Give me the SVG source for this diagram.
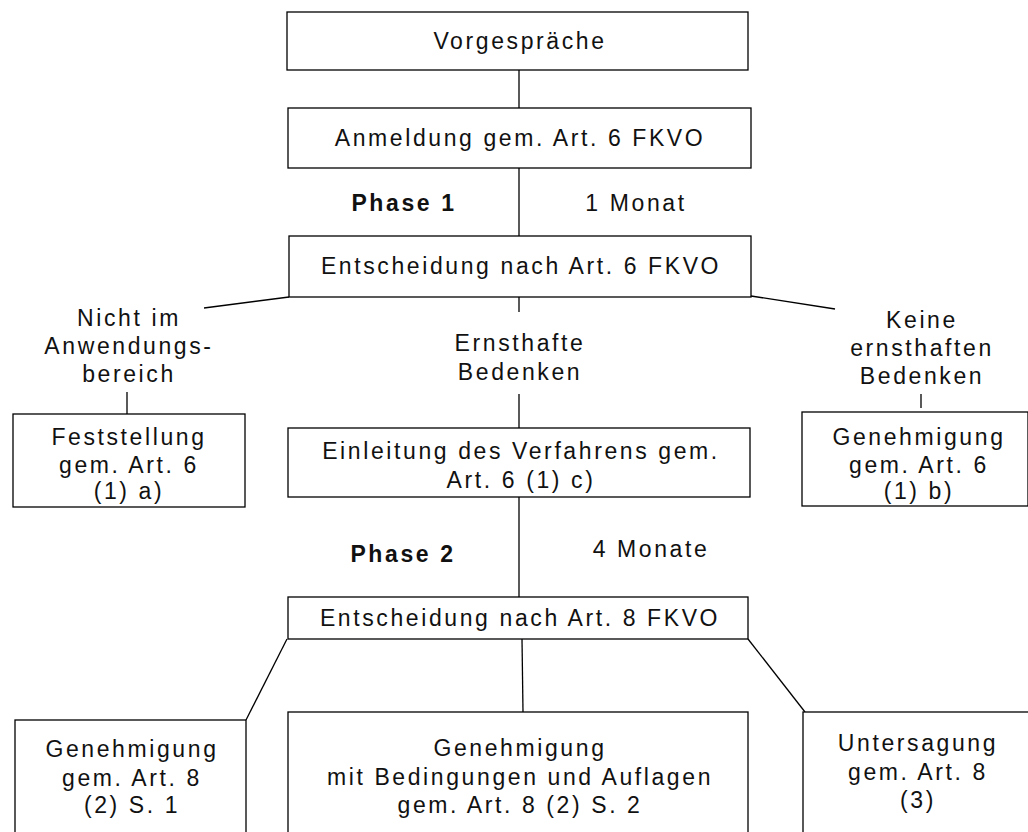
<svg xmlns="http://www.w3.org/2000/svg" width="1028" height="832" viewBox="0 0 1028 832">
<style>
  .box { fill: #ffffff; stroke: #000000; stroke-width: 1.3; }
  .t { font-family: "Liberation Sans", Arial, sans-serif; font-size: 23px; letter-spacing: 2.6px; fill: #111111; text-anchor: middle; }
  .b { font-weight: bold; }
  .c { stroke: #000000; stroke-width: 1.3; fill: none; }
</style>
<rect width="1028" height="832" fill="#ffffff"/>
<g id="connectors">
  <line class="c" x1="519" y1="70" x2="519" y2="108"/>
  <line class="c" x1="519" y1="168" x2="519" y2="236"/>
  <line class="c" x1="519" y1="297" x2="519" y2="312"/>
  <line class="c" x1="519" y1="394" x2="519" y2="428"/>
  <line class="c" x1="519" y1="497" x2="519" y2="597"/>
  <line class="c" x1="289" y1="297" x2="204" y2="308"/>
  <line class="c" x1="751" y1="296" x2="835" y2="309"/>
  <line class="c" x1="127" y1="392" x2="127" y2="414"/>
  <line class="c" x1="921" y1="394" x2="921" y2="408"/>
  <line class="c" x1="287" y1="639" x2="246" y2="720"/>
  <line class="c" x1="522" y1="639" x2="523" y2="712"/>
  <line class="c" x1="748" y1="639" x2="805" y2="712"/>
</g>
<g id="phase1">
  <text class="t b" x="404" y="211">Phase 1</text>
  <text class="t" x="636" y="211">1 Monat</text>
</g>
<g id="phase2">
  <text class="t b" x="403" y="562">Phase 2</text>
  <text class="t" x="651" y="557">4 Monate</text>
</g>
<g id="vorgespraeche">
  <rect class="box" x="287" y="12" width="461" height="58"/>
  <text class="t" x="520" y="49">Vorgespräche</text>
</g>
<g id="anmeldung">
  <rect class="box" x="288" y="108" width="463" height="60"/>
  <text class="t" x="520" y="146">Anmeldung gem. Art. 6 FKVO</text>
</g>
<g id="entscheidung6">
  <rect class="box" x="289" y="236" width="462" height="61"/>
  <text class="t" x="521" y="274">Entscheidung nach Art. 6 FKVO</text>
</g>
<g id="label-nicht">
  <text class="t" x="129" y="326">Nicht im</text>
  <text class="t" x="129" y="354">Anwendungs-</text>
  <text class="t" x="129" y="382">bereich</text>
</g>
<g id="label-ernsthaft">
  <text class="t" x="520" y="351">Ernsthafte</text>
  <text class="t" x="520" y="380">Bedenken</text>
</g>
<g id="label-keine">
  <text class="t" x="922" y="328">Keine</text>
  <text class="t" x="922" y="356">ernsthaften</text>
  <text class="t" x="922" y="384">Bedenken</text>
</g>
<g id="feststellung">
  <rect class="box" x="13" y="414" width="232" height="93"/>
  <text class="t" x="129" y="445">Feststellung</text>
  <text class="t" x="129" y="473">gem. Art. 6</text>
  <text class="t" x="129" y="499">(1) a)</text>
</g>
<g id="einleitung">
  <rect class="box" x="288" y="428" width="462" height="69"/>
  <text class="t" x="521" y="459">Einleitung des Verfahrens gem.</text>
  <text class="t" x="521" y="488">Art. 6 (1) c)</text>
</g>
<g id="genehmigung6">
  <rect class="box" x="802" y="412" width="226" height="94"/>
  <text class="t" x="919" y="445">Genehmigung</text>
  <text class="t" x="919" y="473">gem. Art. 6</text>
  <text class="t" x="919" y="499">(1) b)</text>
</g>
<g id="entscheidung8">
  <rect class="box" x="288" y="597" width="460" height="42"/>
  <text class="t" x="520" y="626">Entscheidung nach Art. 8 FKVO</text>
</g>
<g id="genehmigung8-1">
  <rect class="box" x="15" y="720" width="231" height="120"/>
  <text class="t" x="132" y="757">Genehmigung</text>
  <text class="t" x="132" y="786">gem. Art. 8</text>
  <text class="t" x="132" y="813">(2) S. 1</text>
</g>
<g id="genehmigung8-2">
  <rect class="box" x="288" y="712" width="460" height="130"/>
  <text class="t" x="520" y="756">Genehmigung</text>
  <text class="t" x="520" y="785">mit Bedingungen und Auflagen</text>
  <text class="t" x="520" y="813">gem. Art. 8 (2) S. 2</text>
</g>
<g id="untersagung">
  <rect class="box" x="803" y="712" width="230" height="130"/>
  <text class="t" x="918" y="751">Untersagung</text>
  <text class="t" x="918" y="780">gem. Art. 8</text>
  <text class="t" x="918" y="808">(3)</text>
</g>
</svg>
